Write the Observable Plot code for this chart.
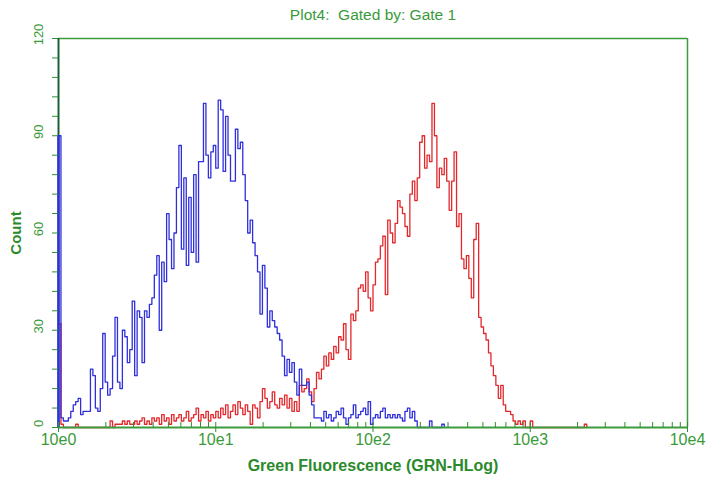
<!DOCTYPE html>
<html>
<head>
<meta charset="utf-8">
<script src="https://cdn.jsdelivr.net/npm/d3@7"></script>
<script src="https://cdn.jsdelivr.net/npm/@observablehq/plot@0.6"></script>
<style>
  html, body { margin: 0; padding: 0; background: #fff; }
  #chart svg text { white-space: pre; }
</style>
</head>
<body>
<div id="chart"></div>
<script>
// ---- data (channel counts, 256 channels over 4 log decades, 64 channels/decade) ----
const channelsPerDecade = 64;
const blueCounts = [
  90,3,2,2,3,5,7,8,9,4,
  5,5,5,18,16,6,5,12,29,14,
  10,12,22,34,14,12,30,28,20,24,
  39,16,36,34,20,36,34,38,40,47,
  53,30,51,45,66,58,49,60,74,87,
  55,77,50,71,54,78,51,82,82,100,
  84,77,85,87,80,101,98,79,96,84,
  76,76,92,86,88,78,70,60,64,57,
  53,48,35,50,43,31,36,33,31,29,
  27,22,16,21,17,20,14,10,18,13,
  13,14,10,7,3,3,3,2,5,3,
  4,2,3,5,4,6,3,1,3,4,
  7,3,4,5,6,4,8,1,3,4,
  3,5,6,3,4,3,4,3,4,3,
  2,5,6,3,5,2,0,0,0,0,
  0,2,0,0,0,0,1,0
];
const redCounts = [
  32,1,0,0,0,0,0,1,0,0,
  0,0,0,0,0,0,0,0,0,0,
  0,2,0,1,1,1,2,1,2,1,
  1,2,1,2,3,1,2,1,3,2,
  3,1,4,2,3,1,4,2,3,4,
  2,3,5,2,3,4,6,2,4,3,
  5,2,4,3,5,3,6,4,7,3,
  5,7,4,8,6,4,7,5,1,7,
  6,3,8,12,9,6,8,11,7,6,
  9,7,10,6,9,5,8,5,13,11,
  12,15,11,8,12,17,15,18,22,19,
  23,21,25,23,28,27,32,24,21,35,
  33,36,43,44,42,48,40,36,44,51,
  52,56,59,41,64,60,57,63,70,68,
  66,62,59,72,76,70,77,88,90,80,
  84,82,100,90,74,80,78,83,76,67,
  76,85,62,66,52,49,53,46,40,58,
  63,34,31,29,27,23,19,16,13,9,
  13,7,5,5,4,2,1,2,1,2,
  0,0,2,0,0,0,0,0,0,0,
  0,0,0,0,0,0,0,0,0,0,
  0,0,0,0,1,0
];
const xDecades = [1, 10, 100, 1000, 10000];
const xDecadeLabels = ["10e0", "10e1", "10e2", "10e3", "10e4"];
const xMinorTicks = [2,3,4,5,6,7,8,9,20,30,40,50,60,70,80,90,200,300,400,500,600,700,800,900,2000,3000,4000,5000,6000,7000,8000,9000];
const yTicks = [0,6,12,18,24,30,36,42,48,54,60,66,72,78,84,90,96,102,108,114,120];
const yLabelTicks = [0, 30, 60, 90, 120];
const titleText = "Plot4:  Gated by: Gate 1";
const xLabelText = "Green Fluorescence (GRN-HLog)";
const yLabelText = "Count";

// ---- build series ----
const toPoints = (arr) => arr.map((c, i) => ({x: Math.pow(10, i / channelsPerDecade), count: c}));
const blue = toPoints(blueCounts);
const red = toPoints(redCounts);
const decadeLabel = new Map(xDecades.map((d, i) => [d, xDecadeLabels[i]]));

const green = "#2f8f2f";
const labelGreen = "#3a9a3a";
const frameGreen = "#3d9b3d";
const blueColor = "#2f2fdc";
const redColor = "#e3282c";
const font = "'Liberation Sans', Arial, sans-serif";

const chart = Plot.plot({
  width: 707,
  height: 477,
  marginTop: 38,
  marginLeft: 58,
  marginRight: 20,
  marginBottom: 50,
  style: {fontFamily: font, color: green, background: "#fff", overflow: "visible"},
  x: {type: "log", domain: [1, 10000], label: null},
  y: {domain: [0, 120], label: null},
  marks: [
    // frame top and right
    Plot.ruleY([120], {stroke: frameGreen, strokeWidth: 1.5}),
    Plot.ruleX([10000], {stroke: frameGreen, strokeWidth: 1.5}),
    // left axis line
    Plot.ruleX([1], {stroke: "#1d5e3a", strokeWidth: 2}),
    // histograms
    Plot.line(red, {x: "x", y: "count", curve: "step-after", stroke: redColor, strokeWidth: 1.3}),
    Plot.line(blue, {x: "x", y: "count", curve: "step-after", stroke: blueColor, strokeWidth: 1.3}),
    // first channel of the blue histogram lies on the left axis
    Plot.ruleX([blue[0]], {x: "x", y1: 0, y2: "count", stroke: blueColor, strokeWidth: 2.5}),
    // bottom axis line
    Plot.ruleY([0], {stroke: frameGreen, strokeWidth: 2}),
    // y ticks (outside)
    Plot.axisY(yTicks, {tickSize: 6, tickFormat: () => "", stroke: green}),
    // y labels (rotated)
    Plot.text(yLabelTicks, {y: d => d, text: d => String(d), frameAnchor: "left", textAnchor: "middle", lineAnchor: "middle", dx: -20, dy: -4, rotate: -90, fontSize: 13, fill: labelGreen}),
    // x minor ticks (inside)
    Plot.axisX(xMinorTicks, {tickSize: -5, tickFormat: () => "", stroke: green}),
    // x decade ticks (both sides) with labels
    Plot.axisX(xDecades, {tickSize: -5, tickFormat: () => "", stroke: green}),
    Plot.axisX(xDecades, {tickSize: 5, tickPadding: 1, tickFormat: d => decadeLabel.get(d), fontSize: 16, stroke: green, fill: labelGreen}),
    // title
    Plot.text([titleText], {frameAnchor: "top", textAnchor: "middle", lineAnchor: "middle", dy: -23, fontSize: 15.5, fill: labelGreen}),
    // y axis label
    Plot.text([yLabelText], {frameAnchor: "left", textAnchor: "middle", lineAnchor: "middle", dx: -42, rotate: -90, fontSize: 15, fontWeight: "bold", fill: "#2b8a2b"}),
    // x axis label
    Plot.text([xLabelText], {frameAnchor: "bottom", textAnchor: "middle", lineAnchor: "middle", dy: 38, fontSize: 16, fontWeight: "bold", fill: "#2b8a2b"})
  ]
});
document.getElementById("chart").appendChild(chart);
</script>
</body>
</html>
